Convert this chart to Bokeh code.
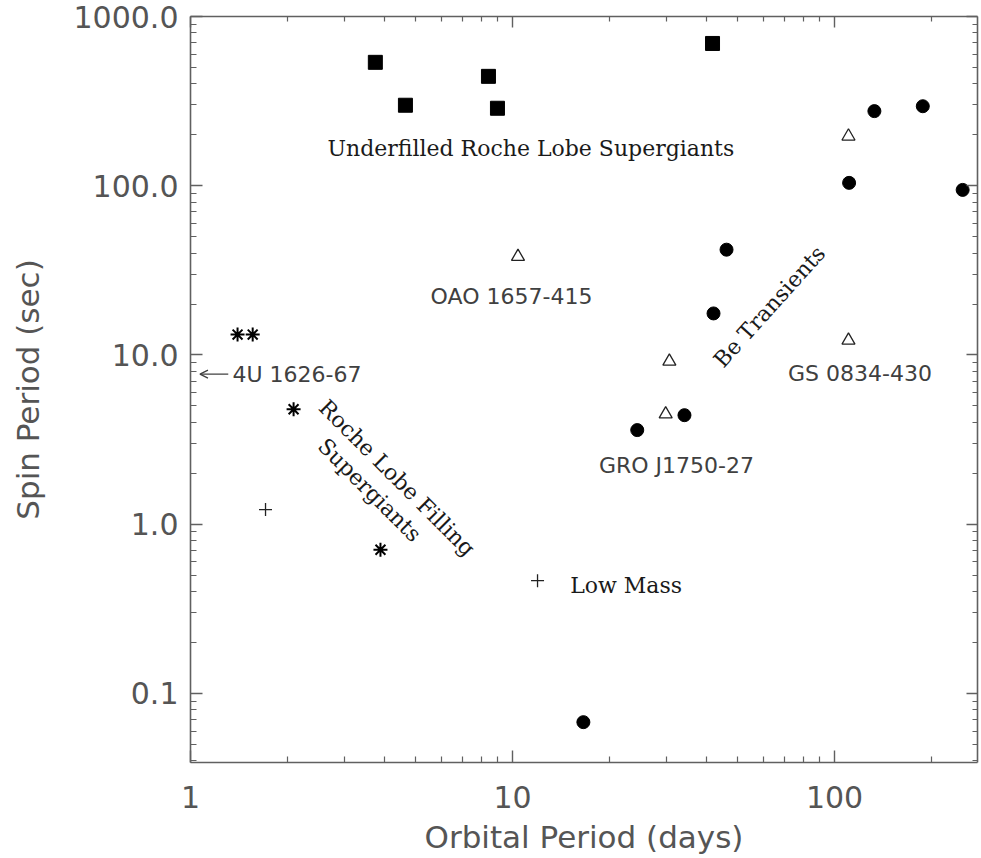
from bokeh.plotting import figure
from bokeh.models import LogAxis, FixedTicker, ColumnDataSource, Arrow, OpenHead
from bokeh.core.properties import value
from bokeh.embed import file_html
from bokeh.resources import INLINE
import math

# ---------------- data ----------------
# Underfilled Roche lobe supergiants (filled squares)
sq_orb = [3.75, 4.65, 8.42, 8.98, 41.8]
sq_spin = [536, 299, 443, 287, 693]

# Be transients (filled circles)
be_orb = [133, 188, 111, 250, 46.2, 42.1, 34.2, 24.4, 16.6]
be_spin = [276, 295, 104, 94.5, 41.9, 17.6, 4.41, 3.60, 0.0677]

# other / candidate systems (open triangles)
tri_orb = [110.5, 10.4, 110.5, 30.7, 29.9]
tri_spin = [196, 38.1, 12.2, 9.16, 4.47]

# Roche lobe filling supergiants (asterisks)
rl_orb = [1.40, 1.56, 2.09, 3.89]
rl_spin = [13.2, 13.2, 4.78, 0.707]

# Low mass systems (plus signs)
lm_orb = [1.71, 11.96]
lm_spin = [1.22, 0.464]

# off-scale source shown with an arrow
off_name = "4U 1626-67"
off_spin = 7.7

# tick values / labels
x_ticks = [1, 10, 100]
x_tick_labels = ["1", "10", "100"]
y_ticks = [0.1, 1, 10, 100, 1000]
y_tick_labels = ["0.1", "1.0", "10.0", "100.0", "1000.0"]

# annotation texts
serif_texts = ["Underfilled Roche Lobe Supergiants", "Roche Lobe Filling", "Supergiants",
               "Be Transients", "Low Mass"]
serif_x = [11.4, 4.38, 3.60, 62.8, 15.1]
serif_y = [165, 1.88, 1.59, 19.3, 0.434]
serif_angle_deg = [0, -45, -45, 48, 0]
serif_align = ["center", "center", "center", "center", "left"]

sans_texts = ["OAO 1657-415", "GS 0834-430", "GRO J1750-27"]
sans_x = [9.93, 120, 32.3]
sans_y = [22.1, 7.79, 2.21]

X_RANGE = (1, 278)
Y_RANGE = (0.0391, 1000)

# ---------------- figure ----------------
p = figure(width=981, height=858, x_axis_type="log", y_axis_type="log",
           x_range=X_RANGE, y_range=Y_RANGE,
           output_backend="svg", toolbar_location=None,
           min_border_left=190, min_border_right=4, min_border_top=16, min_border_bottom=96)
p.grid.visible = False
p.outline_line_color = None
p.background_fill_color = "white"
p.border_fill_color = "white"

x_minor = [m * 10 ** e for e in range(0, 3) for m in range(2, 10)]
y_minor = [m * 10 ** e for e in range(-2, 3) for m in range(2, 10)]
xt = FixedTicker(ticks=x_ticks, minor_ticks=x_minor)
yt = FixedTicker(ticks=y_ticks, minor_ticks=y_minor)

AX_COL = "#606060"
TXT_COL = "#555555"


def style_axis(ax, major_in, minor_in):
    ax.axis_line_color = AX_COL
    ax.axis_line_width = 1.6
    ax.major_tick_line_color = AX_COL
    ax.minor_tick_line_color = AX_COL
    ax.major_tick_line_width = 1.4
    ax.minor_tick_line_width = 1.2
    ax.major_tick_in = major_in
    ax.major_tick_out = 0
    ax.minor_tick_in = minor_in
    ax.minor_tick_out = 0


xa = p.xaxis[0]
xa.ticker = xt
xa.major_label_overrides = dict(zip(x_ticks, x_tick_labels))
style_axis(xa, 12, 6)
xa.major_label_text_font = "DejaVu Sans"
xa.major_label_text_font_size = "30px"
xa.major_label_text_color = TXT_COL
xa.major_label_standoff = 23
xa.axis_label = "Orbital Period (days)"
xa.axis_label_text_font = "DejaVu Sans"
xa.axis_label_text_font_size = "31px"
xa.axis_label_text_font_style = "normal"
xa.axis_label_text_color = TXT_COL
xa.axis_label_standoff = 8

ya = p.yaxis[0]
ya.ticker = yt
ya.major_label_overrides = dict(zip(y_ticks, y_tick_labels))
style_axis(ya, 12, 6)
ya.major_label_text_font = "DejaVu Sans"
ya.major_label_text_font_size = "30px"
ya.major_label_text_color = TXT_COL
ya.major_label_standoff = 12
ya.axis_label = "Spin Period (sec)"
ya.axis_label_text_font = "DejaVu Sans"
ya.axis_label_text_font_size = "31px"
ya.axis_label_text_font_style = "normal"
ya.axis_label_text_color = TXT_COL
ya.axis_label_standoff = 25

top = LogAxis(ticker=FixedTicker(ticks=x_ticks, minor_ticks=x_minor))
top.major_label_overrides = {t: "" for t in x_ticks}
top.major_label_text_font_size = "0px"
top.major_label_standoff = 0
style_axis(top, 11, 5)
p.add_layout(top, "above")

right = LogAxis(ticker=FixedTicker(ticks=y_ticks, minor_ticks=y_minor))
right.major_label_overrides = {t: "" for t in y_ticks}
right.major_label_text_font_size = "0px"
right.major_label_standoff = 0
style_axis(right, 11, 5)
p.add_layout(right, "right")

# ---------------- markers ----------------
p.scatter(sq_orb, sq_spin, marker="square", size=14, color="black")
p.scatter(be_orb, be_spin, marker="circle", size=13, color="black")
p.scatter(tri_orb, tri_spin, marker="triangle", size=13, fill_color=None,
          line_color="#222222", line_width=1.3)
p.scatter(rl_orb, rl_spin, marker="asterisk", size=14, line_color="black", line_width=2)
p.scatter(lm_orb, lm_spin, marker="cross", size=13, line_color="#222222", line_width=1.3)

# ---------------- annotations ----------------
serif_src = ColumnDataSource(dict(x=serif_x, y=serif_y, t=serif_texts,
                                  a=[math.radians(d) for d in serif_angle_deg],
                                  al=serif_align))
p.text(x="x", y="y", text="t", angle="a", text_align="al", text_baseline="middle",
       text_font=value("DejaVu Serif"), text_font_size="22px", text_color="#1a1a1a",
       source=serif_src)

sans_src = ColumnDataSource(dict(x=sans_x, y=sans_y, t=sans_texts))
p.text(x="x", y="y", text="t", text_align="center", text_baseline="middle",
       text_font=value("DejaVu Sans"), text_font_size="22px", text_color="#404040",
       source=sans_src)

# off-scale source: arrow pointing to the left edge, then its name
p.add_layout(Arrow(end=OpenHead(size=8, line_color="#404040", line_width=1.3),
                   x_start=1.31, y_start=off_spin, x_end=X_RANGE[0] * 1.07, y_end=off_spin,
                   line_color="#404040", line_width=1.3))
p.text(x=[1.35], y=[off_spin], text=[off_name], text_align="left", text_baseline="middle",
       text_font=value("DejaVu Sans"), text_font_size="22px", text_color="#404040")

open("out.html", "w").write(file_html(p, INLINE))
